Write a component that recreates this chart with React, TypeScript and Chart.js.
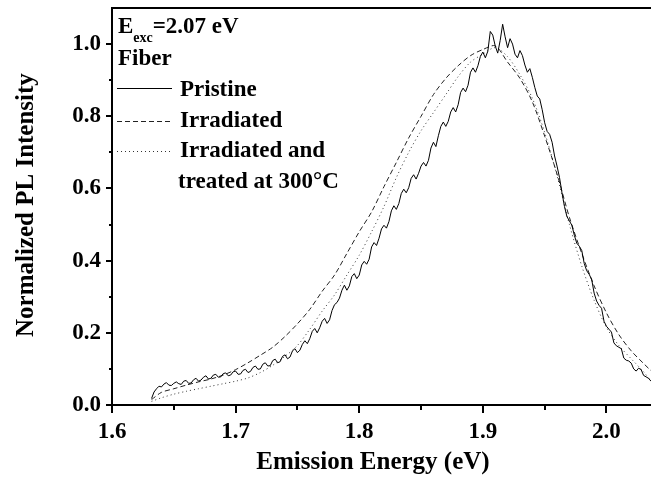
import React, { useEffect, useRef } from "react";
import { Chart, registerables } from "chart.js";

Chart.register(...registerables);

// ---- data ----
const pristineEnergy = [
  1.632, 1.634, 1.636, 1.638, 1.64, 1.642, 1.644, 1.646, 1.648, 1.65,
  1.652, 1.654, 1.656, 1.658, 1.66, 1.662, 1.664, 1.666, 1.668, 1.67,
  1.672, 1.674, 1.676, 1.678, 1.68, 1.682, 1.684, 1.686, 1.688, 1.69,
  1.692, 1.694, 1.696, 1.698, 1.7, 1.702, 1.704, 1.706, 1.708, 1.71,
  1.712, 1.714, 1.716, 1.718, 1.72, 1.722, 1.724, 1.726, 1.728, 1.73,
  1.732, 1.734, 1.736, 1.738, 1.74, 1.742, 1.744, 1.746, 1.748, 1.75,
  1.752, 1.754, 1.756, 1.758, 1.76, 1.762, 1.764, 1.766, 1.768, 1.77,
  1.772, 1.774, 1.776, 1.778, 1.78, 1.782, 1.784, 1.786, 1.788, 1.79,
  1.792, 1.794, 1.796, 1.798, 1.8, 1.802, 1.804, 1.806, 1.808, 1.81,
  1.812, 1.814, 1.816, 1.818, 1.82, 1.822, 1.824, 1.826, 1.828, 1.83,
  1.832, 1.834, 1.836, 1.838, 1.84, 1.842, 1.844, 1.846, 1.848, 1.85,
  1.852, 1.854, 1.856, 1.858, 1.86, 1.862, 1.864, 1.866, 1.868, 1.87,
  1.872, 1.874, 1.876, 1.878, 1.88, 1.882, 1.884, 1.886, 1.888, 1.89,
  1.892, 1.894, 1.896, 1.898, 1.9, 1.902, 1.904, 1.906, 1.908, 1.91,
  1.912, 1.914, 1.916, 1.918, 1.92, 1.922, 1.924, 1.926, 1.928, 1.93,
  1.932, 1.934, 1.936, 1.938, 1.94, 1.942, 1.944, 1.946, 1.948, 1.95,
  1.952, 1.954, 1.956, 1.958, 1.96, 1.962, 1.964, 1.966, 1.968, 1.97,
  1.972, 1.974, 1.976, 1.978, 1.98, 1.982, 1.984, 1.986, 1.988, 1.99,
  1.992, 1.994, 1.996, 1.998, 2.0, 2.002, 2.004, 2.006, 2.008, 2.01,
  2.012, 2.014, 2.016, 2.018, 2.02, 2.022, 2.024, 2.026, 2.028, 2.03,
  2.032, 2.034, 2.036,
];
const pristineIntensity = [
  0.018, 0.036, 0.045, 0.052, 0.05, 0.058, 0.062, 0.055, 0.054, 0.06,
  0.064, 0.059, 0.057, 0.066, 0.068, 0.06, 0.061, 0.07, 0.074, 0.066,
  0.069, 0.077, 0.081, 0.072, 0.074, 0.083, 0.085, 0.077, 0.078, 0.087,
  0.089, 0.081, 0.083, 0.092, 0.094, 0.085, 0.086, 0.096, 0.099, 0.09,
  0.093, 0.104, 0.108, 0.099, 0.1, 0.113, 0.117, 0.108, 0.109, 0.123,
  0.127, 0.117, 0.12, 0.135, 0.139, 0.128, 0.133, 0.15, 0.156, 0.145,
  0.152, 0.168, 0.178, 0.17, 0.184, 0.204, 0.212, 0.2, 0.214, 0.232,
  0.24, 0.226, 0.236, 0.262, 0.278, 0.284, 0.296, 0.318, 0.332, 0.318,
  0.33, 0.356, 0.364, 0.35, 0.36, 0.388, 0.398, 0.39, 0.404, 0.438,
  0.45, 0.442, 0.462, 0.488, 0.498, 0.49, 0.508, 0.538, 0.552, 0.542,
  0.558, 0.586, 0.598, 0.588, 0.602, 0.628, 0.638, 0.626, 0.642, 0.662,
  0.672, 0.662, 0.678, 0.712, 0.728, 0.716, 0.746, 0.772, 0.784, 0.772,
  0.786, 0.812, 0.824, 0.812, 0.832, 0.866, 0.878, 0.868, 0.886, 0.922,
  0.934, 0.922, 0.94, 0.966, 0.978, 0.962, 0.98, 1.035, 1.025, 0.995,
  0.975, 1.01, 1.055, 1.02, 0.99, 1.015, 1.0, 0.972, 0.962, 0.982,
  0.968, 0.942, 0.922, 0.932, 0.908, 0.88, 0.856, 0.848, 0.818, 0.782,
  0.758, 0.75, 0.728, 0.69, 0.662, 0.63, 0.588, 0.55, 0.522, 0.51,
  0.498, 0.47, 0.448, 0.44, 0.428, 0.392, 0.372, 0.362, 0.348, 0.31,
  0.288, 0.276, 0.268, 0.232, 0.218, 0.21, 0.202, 0.172, 0.164, 0.16,
  0.156, 0.13, 0.124, 0.122, 0.116, 0.1, 0.094, 0.102, 0.098, 0.082,
  0.078, 0.074, 0.066,
];
const smoothEnergy = [
  1.632, 1.64, 1.65, 1.66, 1.67, 1.68, 1.69, 1.7, 1.71, 1.72, 1.73, 1.74,
  1.75, 1.76, 1.77, 1.78, 1.79, 1.8, 1.81, 1.82, 1.83, 1.84, 1.85, 1.86,
  1.87, 1.88, 1.89, 1.9, 1.91, 1.92, 1.93, 1.94, 1.95, 1.96, 1.97, 1.98,
  1.99, 2.0, 2.01, 2.02, 2.03, 2.036,
];
const irradiatedIntensity = [
  0.015, 0.035, 0.045, 0.055, 0.064, 0.072, 0.083, 0.098, 0.117, 0.138, 0.16, 0.19,
  0.225, 0.265, 0.315, 0.36, 0.42, 0.48, 0.535, 0.605, 0.672, 0.74, 0.8, 0.86,
  0.905, 0.94, 0.968, 0.985, 0.995, 0.95, 0.905, 0.84, 0.745, 0.64, 0.52, 0.42,
  0.33, 0.255, 0.195, 0.15, 0.115, 0.095,
];
const treatedIntensity = [
  0.01, 0.02, 0.03, 0.038, 0.045, 0.052, 0.059, 0.066, 0.075, 0.09, 0.11, 0.135,
  0.165, 0.21, 0.26, 0.305, 0.36, 0.415, 0.48, 0.55, 0.63, 0.7, 0.76, 0.81,
  0.86, 0.91, 0.95, 0.972, 0.99, 0.965, 0.915, 0.85, 0.755, 0.635, 0.5, 0.385,
  0.29, 0.215, 0.165, 0.128, 0.092, 0.066,
];
const xMajorTicks = [1.6, 1.7, 1.8, 1.9, 2.0];
const xMinorTicks = [1.65, 1.75, 1.85, 1.95];
const yMajorTicks = [0, 0.2, 0.4, 0.6, 0.8, 1.0];
const yMinorTicks = [0.1, 0.3, 0.5, 0.7, 0.9];
const seriesLabels = ["Pristine", "Irradiated", "Irradiated and", "treated at 300\u00B0C"];
const xTitle = "Emission Energy (eV)";
const yTitle = "Normalized PL Intensity";

const FONT = "'Liberation Serif', 'Times New Roman', serif";

const toPoints = (xs: number[], ys: number[]) => xs.map((x, i) => ({ x, y: ys[i] }));

const decorPlugin = {
  id: "decor",
  afterDraw(chart: any) {
    const { ctx, chartArea: ca, scales } = chart;
    const xs = scales.x;
    const ys = scales.y;
    ctx.save();
    ctx.strokeStyle = "#000";
    ctx.fillStyle = "#000";
    ctx.lineWidth = 2;
    // frame
    ctx.beginPath();
    ctx.moveTo(ca.left, ca.top);
    ctx.lineTo(ca.right + 2, ca.top);
    ctx.moveTo(ca.left, ca.top - 1);
    ctx.lineTo(ca.left, ca.bottom);
    ctx.lineTo(ca.right + 2, ca.bottom);
    ctx.stroke();
    // ticks
    ctx.beginPath();
    xMajorTicks.forEach((v) => {
      const p = Math.round(xs.getPixelForValue(v));
      ctx.moveTo(p, ca.bottom);
      ctx.lineTo(p, ca.bottom + 8);
    });
    xMinorTicks.forEach((v) => {
      const p = Math.round(xs.getPixelForValue(v));
      ctx.moveTo(p, ca.bottom);
      ctx.lineTo(p, ca.bottom + 5);
    });
    yMajorTicks.forEach((v) => {
      const p = Math.round(ys.getPixelForValue(v));
      ctx.moveTo(ca.left, p);
      ctx.lineTo(ca.left - 6, p);
    });
    yMinorTicks.forEach((v) => {
      const p = Math.round(ys.getPixelForValue(v));
      ctx.moveTo(ca.left, p);
      ctx.lineTo(ca.left - 3, p);
    });
    ctx.stroke();

    // axis titles
    ctx.font = `bold 25px ${FONT}`;
    ctx.textAlign = "center";
    ctx.textBaseline = "alphabetic";
    ctx.fillText(xTitle, 373, 469);
    ctx.save();
    ctx.translate(33, 337);
    ctx.rotate(-Math.PI / 2);
    ctx.textAlign = "left";
    ctx.fillText(yTitle, 0, 0);
    ctx.restore();

    // annotation text
    ctx.textAlign = "left";
    ctx.font = `bold 23px ${FONT}`;
    ctx.fillText("E", 118, 33);
    const eW = ctx.measureText("E").width;
    ctx.font = `bold 14px ${FONT}`;
    ctx.fillText("exc", 118 + eW, 42);
    const subW = ctx.measureText("exc").width;
    ctx.font = `bold 23px ${FONT}`;
    ctx.fillText("=2.07 eV", 118 + eW + subW, 33);
    ctx.fillText("Fiber", 118, 65);

    // legend
    const rows = [
      { y: 88, base: 96, dash: [] as number[], color: "#000" },
      { y: 121, base: 127, dash: [5, 3], color: "#222" },
      { y: 151, base: 157, dash: [1, 3], color: "#333" },
    ];
    rows.forEach((r, i) => {
      ctx.save();
      ctx.lineWidth = 1;
      ctx.strokeStyle = r.color;
      ctx.setLineDash(r.dash);
      ctx.beginPath();
      ctx.moveTo(117, r.y + 0.5);
      ctx.lineTo(172, r.y + 0.5);
      ctx.stroke();
      ctx.restore();
      ctx.fillText(seriesLabels[i], 180, r.base);
    });
    ctx.fillText(seriesLabels[3], 178, 188);
    ctx.restore();
  },
};

export default function App() {
  const ref = useRef<HTMLCanvasElement | null>(null);
  useEffect(() => {
    if (!ref.current) return;
    const chart = new Chart(ref.current, {
      type: "line",
      data: {
        datasets: [
          {
            label: seriesLabels[0],
            data: toPoints(pristineEnergy, pristineIntensity),
            borderColor: "#000",
            borderWidth: 1,
            pointRadius: 0,
            tension: 0,
          },
          {
            label: seriesLabels[1],
            data: toPoints(smoothEnergy, irradiatedIntensity),
            borderColor: "#222",
            borderWidth: 1,
            borderDash: [5, 3],
            pointRadius: 0,
            tension: 0.3,
          },
          {
            label: seriesLabels[2],
            data: toPoints(smoothEnergy, treatedIntensity),
            borderColor: "#333",
            borderWidth: 1,
            borderDash: [1, 3],
            pointRadius: 0,
            tension: 0.3,
          },
        ],
      },
      options: {
        animation: false,
        responsive: false,
        devicePixelRatio: 1,
        layout: { padding: { top: 8, right: 0, left: 0, bottom: 0 } },
        plugins: { legend: { display: false }, tooltip: { enabled: false } },
        scales: {
          x: {
            type: "linear",
            min: 1.6,
            max: 2.036,
            grid: { display: false, drawTicks: false },
            border: { display: false },
            ticks: {
              stepSize: 0.1,
              includeBounds: false,
              padding: 13,
              color: "#000",
              font: { family: FONT, size: 23, weight: "bold" },
              callback: (v: any) => Number(v).toFixed(1),
            },
            afterFit: (s: any) => {
              s.height = 75;
              s.paddingLeft = 0;
              s.paddingRight = 0;
            },
          },
          y: {
            type: "linear",
            min: 0,
            max: 1.1,
            grid: { display: false, drawTicks: false },
            border: { display: false },
            ticks: {
              stepSize: 0.2,
              includeBounds: false,
              padding: 11,
              color: "#000",
              font: { family: FONT, size: 23, weight: "bold" },
              callback: (v: any) => Number(v).toFixed(1),
            },
            afterFit: (s: any) => {
              s.width = 112;
              s.paddingTop = 0;
              s.paddingBottom = 0;
            },
          },
        },
      },
      plugins: [decorPlugin],
    });
    return () => chart.destroy();
  }, []);
  return (
    <div style={{ position: "fixed", left: 0, top: 0, width: 651, height: 480, background: "#fff" }}>
      <canvas ref={ref} width={651} height={480} style={{ display: "block" }} />
    </div>
  );
}
